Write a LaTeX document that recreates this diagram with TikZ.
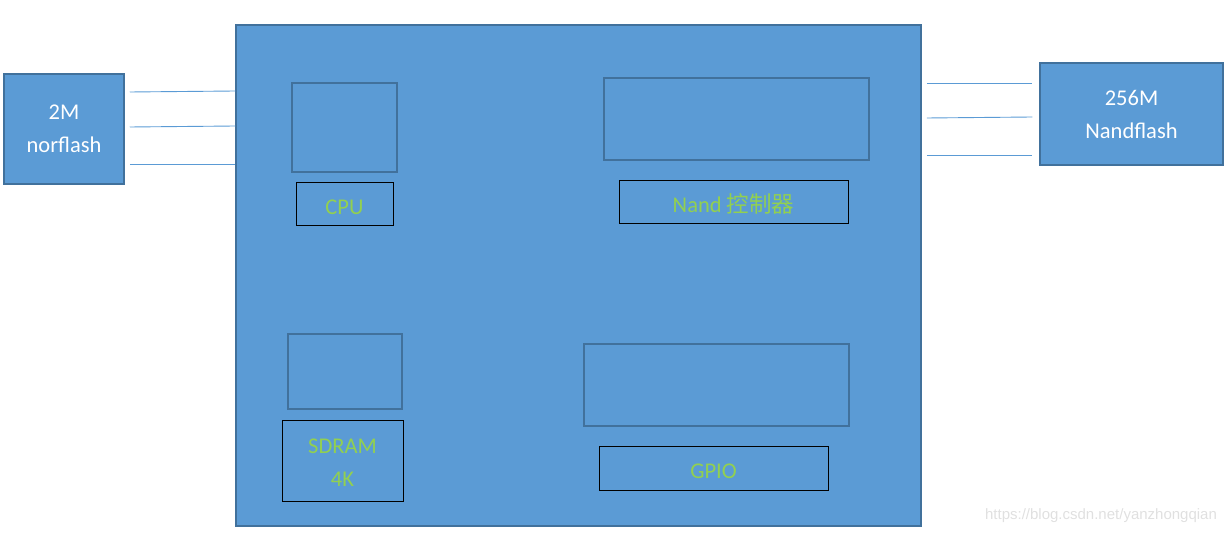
\documentclass[tikz,border=0pt]{standalone}
\usepackage{fontspec}
\setmainfont{Carlito}
\newfontfamily\cjk{Noto Sans CJK SC}
\newfontfamily\markfont{Liberation Sans}
\usepackage{tikz}
\usetikzlibrary{positioning,calc}
\definecolor{chipblue}{HTML}{5B9BD5}
\definecolor{edgeblue}{HTML}{41719C}
\definecolor{labgreen}{HTML}{92D050}
\tikzset{
  chip/.style={draw=edgeblue, line width=1.5pt, fill=chipblue, inner sep=0pt},
  flash/.style={draw=edgeblue, line width=1.5pt, fill=chipblue, align=center, text=white,
    font=\fontsize{22.5}{33}\selectfont},
  unit/.style={draw=edgeblue, line width=1.5pt, inner sep=0pt},
  tag/.style={draw=black, line width=1pt, inner sep=0pt, align=center, text=labgreen,
    font=\fontsize{22.5}{33}\selectfont},
  tagone/.style={tag, text height=20.5pt, text depth=0pt},
  bus/.style={draw=chipblue, line width=0.9pt},
}

\begin{document}
\begin{tikzpicture}[x=1pt, y=-1pt]
  \useasboundingbox (0,0) rectangle (1232,534);

  % SoC body
  \node[chip, minimum width=685, minimum height=501] (soc) at (578.5,275.5) {};

  % external flash chips
  \node[flash, minimum width=120, minimum height=110] (nor) at (64,129) {2M\\norflash};
  \node[flash, minimum width=183, minimum height=102] (nand) at (1131.5,114) {256M\\Nandflash};

  % bus lines
  \draw[bus] ([xshift=5]nor.east |- 0,92) -- (soc.west |- 0,91);
  \draw[bus] ([xshift=5]nor.east |- 0,127) -- (soc.west |- 0,126);
  \draw[bus] ([xshift=5]nor.east |- 0,164) -- (soc.west |- 0,164);
  \draw[bus] ([xshift=5]soc.east |- 0,83) -- ([xshift=-7]nand.west |- 0,83);
  \draw[bus] ([xshift=5]soc.east |- 0,118) -- ([xshift=-7]nand.west |- 0,117);
  \draw[bus] ([xshift=5]soc.east |- 0,155) -- ([xshift=-7]nand.west |- 0,155);

  % internal units
  \node[unit, minimum width=105, minimum height=89] (cpu) at (344.5,127.5) {};
  \node[tagone, minimum width=97, minimum height=43] (cpulab) at (344.5,204.5) {CPU};

  \node[unit, minimum width=265, minimum height=82] (nandc) at (736.5,119) {};
  \node[tagone, minimum width=229, minimum height=43] (nandclab) at (733.5,202.5) {Nand {\cjk 控制器}};

  \node[unit, minimum width=114, minimum height=75] (sdram) at (345,371.5) {};
  \node[tag, minimum width=121, minimum height=80] (sdramlab) at (342.5,461) {\rule{0pt}{18.5pt}SDRAM\\4K};

  \node[unit, minimum width=265, minimum height=82] (gpio) at (716.5,385) {};
  \node[tagone, minimum width=229, minimum height=43] (gpiolab) at (713.5,468.5) {GPIO};

  % watermark
  \node[text=black!12, font=\fontsize{15}{17}\markfont] (mark) at (1101,516) {https://blog.csdn.net/yanzhongqian};
\end{tikzpicture}
\end{document}
